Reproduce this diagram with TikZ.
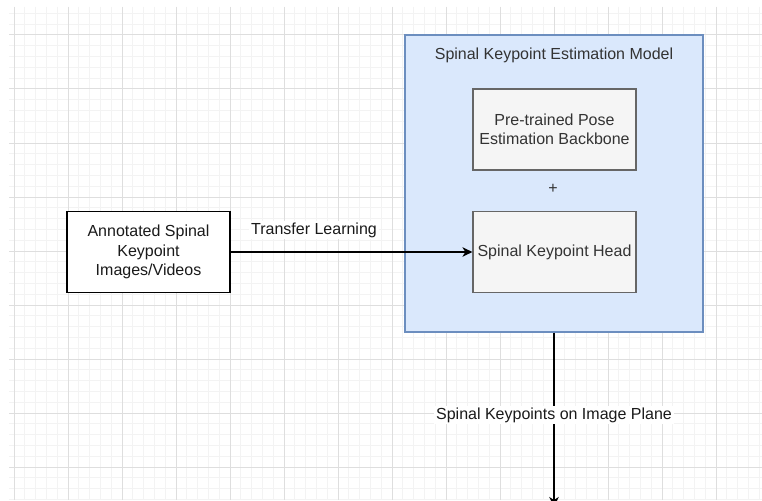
\documentclass[tikz,border=0pt]{standalone}
\usepackage{fontspec}
\setmainfont{Liberation Sans}
\usetikzlibrary{arrows.meta}
\definecolor{gminor}{HTML}{F3F3F3}
\definecolor{gmajor}{HTML}{DEDEDE}
\definecolor{bluefill}{HTML}{DAE8FC}
\definecolor{bluedraw}{HTML}{6C8EBF}
\definecolor{grayfill}{HTML}{F5F5F5}
\definecolor{graydraw}{HTML}{666666}
\definecolor{graytext}{HTML}{333333}
\definecolor{darktext}{HTML}{1A1A1A}
\tikzset{
  minorline/.style={draw=gminor, line width=1pt},
  majorline/.style={draw=gmajor, line width=1pt},
  txt/.style={font=\fontsize{16}{19.5}\selectfont, align=center},
  container/.style={draw=bluedraw, fill=bluefill, line width=1.2pt, minimum width=298pt, minimum height=297pt, inner sep=0pt},
  graybox/.style={draw=graydraw, fill=grayfill, line width=1.2pt, minimum width=163pt, minimum height=81pt, inner sep=0pt, txt, text=graytext},
  whitebox/.style={draw=black, fill=white, line width=1.2pt, minimum width=163pt, minimum height=81pt, inner sep=0pt, txt, text=darktext},
  lbl/.style={txt, text=darktext, fill=white, inner sep=2pt},
  arr/.style={draw=black, line width=1.3pt, -{Stealth[length=10pt,width=9.5pt,inset=3pt]}},
}
\begin{document}
\begin{tikzpicture}[x=1pt, y=-1pt]
\useasboundingbox (0,0) rectangle (762,500);
\fill[white] (0,0) rectangle (762,500);
\begin{scope}
  \clip (9,7) rectangle (762,500);
  \foreach \k in {0,...,69} {
    \pgfmathsetmacro\xx{14+10.8*\k}
    \draw[minorline] (\xx,7) -- (\xx,500);
  }
  \foreach \k in {-2,...,43} {
    \pgfmathsetmacro\yy{35+10.8*\k}
    \draw[minorline] (9,\yy) -- (762,\yy);
  }
  \foreach \k in {0,...,13} {
    \pgfmathsetmacro\xx{14+54*\k}
    \draw[majorline] (\xx,7) -- (\xx,500);
  }
  \foreach \k in {0,...,8} {
    \pgfmathsetmacro\yy{35+54*\k}
    \draw[majorline] (9,\yy) -- (762,\yy);
  }
\end{scope}

\node[container] (model) at (554,183.5) {};
\node[txt, text=graytext] (title) at (554,55) {Spinal Keypoint Estimation Model};
\node[graybox] (backbone) at (554.5,129.5) {Pre-trained Pose\\Estimation Backbone};
\node[txt, text=graytext] (plus) at (553,189) {+};
\node[graybox] (head) at (554.5,252) {Spinal Keypoint Head};
\node[whitebox] (input) at (148.5,252) {Annotated Spinal\\Keypoint\\Images/Videos};

\draw[arr] (input.east) -- (head.west);
\node[lbl] (tl) at (314,230) {Transfer Learning};

\coordinate (out) at (554,507);
\draw[arr] (model.south) -- (out);
\node[lbl] (kp) at (554,415) {Spinal Keypoints on Image Plane};
\end{tikzpicture}
\end{document}
